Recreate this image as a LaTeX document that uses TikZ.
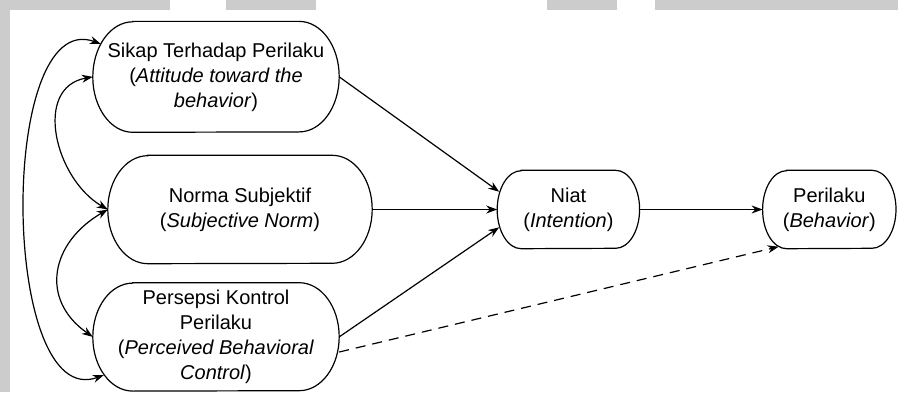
\documentclass[tikz,border=0pt]{standalone}
\usepackage{fontspec}
\setmainfont{Liberation Sans}
\usepackage{tikz}
\usetikzlibrary{arrows.meta,positioning}

\begin{document}
\begin{tikzpicture}[x=1pt, y=1pt, node distance=23pt, font=\fontsize{20}{25}\selectfont]
\tikzstyle{bigblock} = [rectangle, align=center, inner sep=2pt, minimum height=108pt]
\tikzstyle{block} = [rectangle, align=center, inner sep=2pt, minimum height=78pt]
\tikzstyle{outline} = [line width=1.2pt]
\tikzstyle{arrow} = [line width=1.2pt, ->, >={Stealth[length=11pt,width=8pt]}]
\tikzstyle{biarrow} = [arrow, <->]
\tikzstyle{band} = [fill=black!20, draw=none]

\useasboundingbox (0,0) rectangle (898,392);
\fill[band] (0,0) rectangle (10,392);
\foreach \a/\b in {0/170, 226/316, 547/617, 655/898}
  \fill[band] (\a,381.5) rectangle (\b,392);

\node[bigblock, minimum width=264pt] (norma) at (240,182.5) {Norma Subjektif\\(\textit{Subjective Norm})};
\node[bigblock, minimum width=246pt, minimum height=110.5pt, above=23pt of norma, xshift=-24pt] (sikap) {Sikap Terhadap Perilaku\\(\textit{Attitude toward the}\\\textit{behavior})};
\node[bigblock, minimum width=246pt, below=19pt of norma, xshift=-24pt] (persepsi) {Persepsi Kontrol\\Perilaku\\(\textit{Perceived Behavioral}\\\textit{Control})};
\node[block, minimum width=142pt, right=125pt of norma] (niat) {Niat\\(\textit{Intention})};
\node[block, minimum width=133pt, right=123pt of niat] (perilaku) {Perilaku\\(\textit{Behavior})};

\foreach \n/\r/\h in {sikap/40/55.25, norma/40/54, persepsi/40/54, niat/24/39, perilaku/24/39}
  \draw[outline] ([xshift=\r]\n.north west) -- ([xshift=-\r]\n.north east)
    arc[start angle=90, end angle=-90, x radius=\r, y radius=\h]
    -- ([xshift=\r]\n.south west)
    arc[start angle=270, end angle=90, x radius=\r, y radius=\h] -- cycle;

\draw[arrow] (sikap.east) -- ([xshift=2]niat.166);
\draw[arrow] (norma) -- (niat);
\draw[arrow] (persepsi.east) -- ([xshift=2]niat.194);
\draw[arrow] (niat) -- (perilaku);
\draw[arrow, dash pattern=on 10pt off 7pt] (persepsi.353) -- ([shift={(16,2)}]perilaku.south west);
\draw[biarrow] (sikap.west) to[out=190, in=150, looseness=1.17] (norma.west);
\draw[biarrow] (norma.west) to[out=210, in=145, looseness=1.31] (persepsi.west);
\draw[biarrow] ([shift={(8,-22.5)}]sikap.north west) to[out=160, in=200, looseness=0.85] ([shift={(11,16)}]persepsi.south west);
\end{tikzpicture}
\end{document}
